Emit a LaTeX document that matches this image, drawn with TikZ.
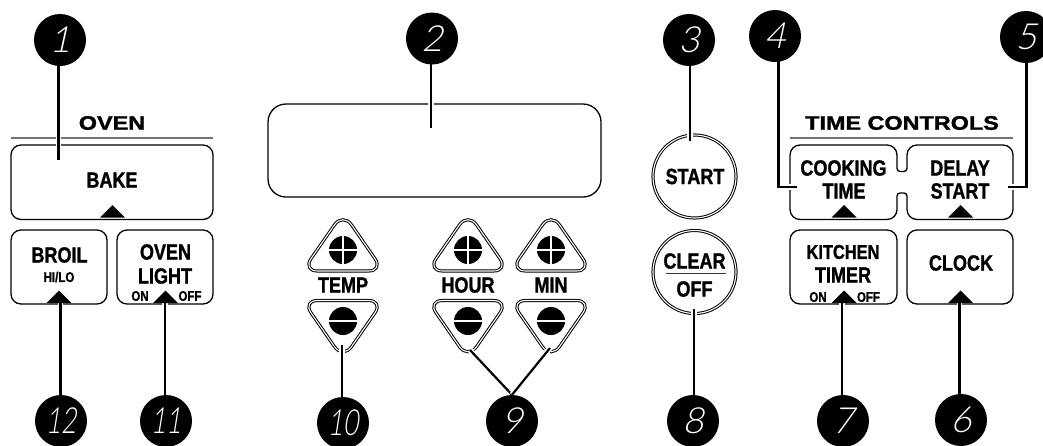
\documentclass[tikz,border=0pt]{standalone}
\usepackage{fontspec}
\usepackage{graphicx}
\setmainfont{Liberation Sans}
\newfontfamily\numfont[FakeSlant=.22]{Lato Light}
\newfontfamily\condfont[FakeStretch=.82,FakeBold=1.2]{Liberation Sans}
\newfontfamily\widefont[FakeStretch=1.2,FakeBold=1.6]{Liberation Sans}
\pgfdeclarelayer{panels}
\pgfdeclarelayer{leads}
\pgfsetlayers{panels,leads,main}
\tikzset{
  x=1pt,y=-1pt,
  panel/.style={draw=black,line width=1.3pt,rounded corners=10pt,fill=white},
  rulegray/.style={draw=black!55,line width=1.3pt},
  leader/.style={draw=black,line width=2.2pt,preaction={draw=white,line width=5.5pt}},
  heavy/.style={leader,line width=2.7pt},
  tick/.style={fill=black},
  dbl/.style={draw=black,line width=1pt,double=white,double distance=1.1pt,line join=round},
  callout/.style={circle,fill=black,minimum size=52pt,inner sep=0pt,text=white,font=\numfont\fontsize{36}{36}\selectfont},
  lbl/.style={inner sep=0pt,font=\condfont\bfseries\fontsize{22}{22}\selectfont},
  lblsm/.style={inner sep=0pt,font=\condfont\bfseries\fontsize{20}{20}\selectfont},
  small/.style={inner sep=0pt,font=\condfont\bfseries\fontsize{14}{14}\selectfont},
  wide/.style={inner sep=0pt,font=\widefont\bfseries\fontsize{19.5}{19.5}\selectfont},
  whitebar/.style={draw=white,line width=1.5pt},
}
\newcommand{\tickat}[2]{\fill[tick] (#1,#2) -- ++(12.5,12.5) -- ++(-25,0) -- cycle;}
\newcommand{\twodig}[1]{\scalebox{.72}[1]{#1}}
\begin{document}
\begin{tikzpicture}
\useasboundingbox (0,0) rectangle (1043,445);
\begin{pgfonlayer}{panels}
\fill[white] (0,0) rectangle (1043,445);
\draw[rulegray] (11,138) -- (213,138);
\draw[rulegray] (790,138) -- (1013,138);
\draw[panel] (11,145) rectangle (213,219.5);
\draw[panel] (11,230) rectangle (107,304);
\draw[panel] (117,230) rectangle (213,304);
\draw[panel,rounded corners=18pt] (268,104) rectangle (601,197);
\foreach \cx in {343,468,551}{
  \begin{scope}[xshift=\cx pt]
  \draw[dbl,rounded corners=15pt] (0,212.5) -- (40.5,271) -- (-40.5,271) -- cycle;
  \draw[dbl,rounded corners=15pt] (0,359) -- (40.5,300.5) -- (-40.5,300.5) -- cycle;
  \fill (0,250) circle (14);
  \fill (0,321) circle (14);
  \draw[whitebar] (-14,250) -- (14,250) (0,236) -- (0,264);
  \draw[whitebar] (-14,321) -- (14,321);
  \end{scope}
}
\node[dbl,circle,minimum size=83pt,inner sep=0pt] (startb) at (694.5,176.5) {};
\node[dbl,circle,minimum size=83pt,inner sep=0pt] (clearb) at (694.5,272) {};
\draw[line width=1.2pt,draw=black!80] (666,273.5) -- (725.5,273.5);
\draw[draw=black,line width=1.3pt,line join=round]
  [rounded corners=10pt] (850,145) -- (897,145)
  [rounded corners=3pt] -- (897,171.5) -- (907,171.5)
  [rounded corners=10pt] -- (907,145) -- (1013,145) -- (1013,219.5) -- (907,219.5)
  [rounded corners=3pt] -- (907,193) -- (897,193)
  [rounded corners=10pt] -- (897,219.5) -- (790,219.5) -- (790,145) -- cycle;
\draw[panel] (790,230) rectangle (897,304);
\draw[panel] (907,230) rectangle (1013,304);
\end{pgfonlayer}

% headings and labels
\node[wide] (oven) at (112,123) {OVEN};
\node[wide] (tc) at (902,123) {TIME CONTROLS};
\node[lbl] (bake) at (112,180) {BAKE};
\node[lbl] (broil) at (59.5,255) {BROIL};
\node[small] (hilo) at (59,277) {HI/LO};
\node[lbl] (ovn) at (165.5,252) {OVEN};
\node[lbl] (light) at (165,276) {LIGHT};
\node[small] (on1) at (140,296) {ON};
\node[small] (off1) at (190,296) {OFF};
\node[lbl] (temp) at (343,285) {TEMP};
\node[lbl] (hour) at (468,285) {HOUR};
\node[lbl] (mins) at (551,285) {MIN};
\node[lbl] (startt) at (695,176.5) {START};
\node[lbl] (cleart) at (694.5,261) {CLEAR};
\node[lbl] (offt) at (694.5,289) {OFF};
\node[lbl] (cook) at (843.5,168) {COOKING};
\node[lbl] (time) at (844,191) {TIME};
\node[lbl] (delay) at (960,168) {DELAY};
\node[lbl] (sstart) at (960,191) {START};
\node[lblsm] (kitchen) at (843,252) {KITCHEN};
\node[lbl] (timer) at (843,275) {TIMER};
\node[small] (on2) at (818,297) {ON};
\node[small] (off2) at (868.5,297) {OFF};
\node[lbl] (clock) at (961,263) {CLOCK};
\tickat{112.5}{205}
\tickat{59}{290.5}
\tickat{165.5}{290.5}
\tickat{844}{205}
\tickat{960.5}{205}
\tickat{844}{290.5}
\tickat{960.5}{290.5}

% callouts
\node[callout] (n1) at (60,40) {1};
\node[callout] (n2) at (432,38.5) {2};
\node[callout] (n3) at (689,40) {3};
\node[callout] (n4) at (775,36) {4};
\node[callout] (n5) at (1026,37) {5};
\node[callout] (n6) at (961,420) {6};
\node[callout] (n7) at (843,421) {7};
\node[callout] (n8) at (693,421) {8};
\node[callout] (n9) at (512,421) {9};
\node[callout] (n10) at (343,423) {\twodig{10}};
\node[callout] (n11) at (166,421) {\twodig{11}};
\node[callout] (n12) at (61,421) {\twodig{12}};

% connector ends
\coordinate (e1) at (58.5,160);
\coordinate (e2) at (431,128);
\coordinate (e3) at (690,141);
\coordinate (e4) at (797,187);
\coordinate (k4) at (778.5,187);
\coordinate (e5) at (1008,187);
\coordinate (k5) at (1026.5,187);
\coordinate (e6) at (959.5,296);
\coordinate (e7) at (842,296);
\coordinate (e8) at (694,309);
\coordinate (e9a) at (470,350);
\coordinate (e9b) at (550,348);
\coordinate (e10) at (342,345);
\coordinate (e11) at (165,296);
\coordinate (e12) at (60.5,296);

\begin{pgfonlayer}{leads}
\draw[leader] (n1.center -| e1) -- (e1);
\draw[leader] (n2.center -| e2) -- (e2);
\draw[leader] (n3.center -| e3) -- (e3);
\draw[leader,line join=miter] (n4.center -| k4) -- (k4) -- (e4);
\draw[leader,line join=miter] (n5.center -| k5) -- (k5) -- (e5);
\draw[heavy] (n6.center -| e6) -- (e6);
\draw[heavy] (n7.center -| e7) -- (e7);
\draw[leader] (n8.center -| e8) -- (e8);
\draw[leader] (n9.north) -- (e9a);
\draw[leader] (n9.north) -- (e9b);
\draw[leader] (n10.center -| e10) -- (e10);
\draw[heavy] (n11.center -| e11) -- (e11);
\draw[heavy] (n12.center -| e12) -- (e12);
\end{pgfonlayer}
\end{tikzpicture}
\end{document}
